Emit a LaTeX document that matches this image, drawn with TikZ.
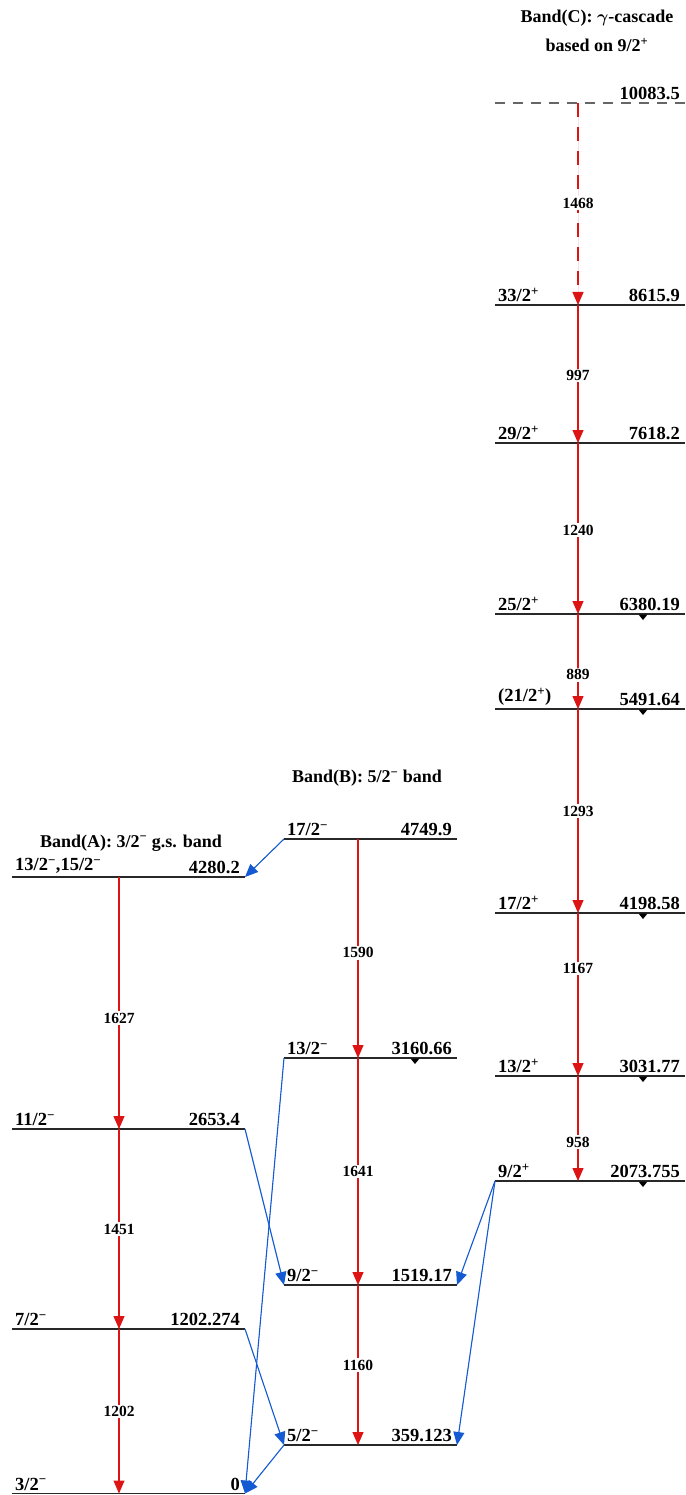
\documentclass[tikz,border=0pt]{standalone}
\usepackage{amsmath}
\usepackage{fontspec}
\setmainfont{Liberation Serif}
\usetikzlibrary{arrows.meta}
\definecolor{gred}{RGB}{220,20,20}
\definecolor{gblue}{RGB}{20,90,210}
\definecolor{lvlgray}{RGB}{40,40,40}
\tikzset{
  lvlline/.style={draw=lvlgray,line width=1.2pt},
  spinlbl/.style={anchor=south west,inner sep=0pt,font=\fontsize{18.5}{20}\selectfont\bfseries},
  enlbl/.style={anchor=south east,inner sep=0pt,font=\fontsize{18.5}{20}\selectfont\bfseries},
  hdr/.style={inner sep=0pt,font=\fontsize{18}{20}\selectfont\bfseries,align=center},
  gam/.style={draw=gred,line width=1.1pt,-{Triangle[width=11pt,length=13pt]},fill=gred},
  gamlbl/.style={fill=white,inner sep=1.5pt,font=\fontsize{15.5}{17}\selectfont\bfseries,text=black},
  cross/.style={draw=gblue,line width=1.1pt,-{Triangle[width=11pt,length=13pt]},fill=gblue},
  tick/.style={fill=black,draw=none}
}
\newcommand{\lvl}[7]{%
  \coordinate (#1-l) at (#2,#4);
  \coordinate (#1-r) at (#3,#4);
  \coordinate (#1-g) at (#5,#4);
  \draw[lvlline] (#1-l) -- (#1-r);
  \node[spinlbl] (#1-s) at ([xshift=3pt,yshift=3pt]#1-l) {#6};
  \node[enlbl] (#1-e) at ([xshift=-5pt,yshift=3pt]#1-r) {#7};
}
\newcommand{\mk}[1]{\fill[tick] ([xshift=-4.5pt]#1) -- ([xshift=4.5pt]#1) -- ([yshift=-5.5pt]#1) -- cycle;}
\begin{document}
\begin{tikzpicture}[x=1pt,y=-1pt]
\useasboundingbox (0,0) rectangle (685,1495);
% Band A
\lvl{a4}{12}{245}{877}{119}{13/2\textsuperscript{−},15/2\textsuperscript{−}}{4280.2}
\lvl{a3}{12}{245}{1129}{119}{11/2\textsuperscript{−}}{2653.4}
\lvl{a2}{12}{245}{1329}{119}{7/2\textsuperscript{−}}{1202.274}
\lvl{a1}{12}{245}{1493.5}{119}{3/2\textsuperscript{−}}{0}
% Band B
\lvl{b4}{284}{457}{839}{358}{17/2\textsuperscript{−}}{4749.9}
\lvl{b3}{284}{457}{1058}{358}{13/2\textsuperscript{−}}{3160.66}
\lvl{b2}{284}{457}{1285}{358}{9/2\textsuperscript{−}}{1519.17}
\lvl{b1}{284}{457}{1445}{358}{5/2\textsuperscript{−}}{359.123}
% Band C
\coordinate (c8-l) at (495,103);
\coordinate (c8-r) at (685,103);
\coordinate (c8-g) at (578,103);
\draw[draw=gray!80!black,line width=1.2pt,dash pattern=on 10pt off 8pt] (c8-l) -- (c8-r);
\node[enlbl] (c8-e) at ([xshift=-5pt,yshift=3pt]c8-r) {10083.5};
\lvl{c7}{495}{685}{305}{578}{33/2\textsuperscript{+}}{8615.9}
\lvl{c6}{495}{685}{443}{578}{29/2\textsuperscript{+}}{7618.2}
\lvl{c5}{495}{685}{614}{578}{25/2\textsuperscript{+}}{6380.19}
\lvl{c4}{495}{685}{709}{578}{(21/2\textsuperscript{+})}{5491.64}
\lvl{c3}{495}{685}{913}{578}{17/2\textsuperscript{+}}{4198.58}
\lvl{c2}{495}{685}{1076}{578}{13/2\textsuperscript{+}}{3031.77}
\lvl{c1}{495}{685}{1181}{578}{9/2\textsuperscript{+}}{2073.755}
% tick marks
\coordinate (t1) at (643,614.5);
\coordinate (t2) at (643,709.5);
\coordinate (t3) at (643,913.5);
\coordinate (t4) at (643,1076.5);
\coordinate (t5) at (643,1181.5);
\coordinate (t6) at (415,1058.5);
\mk{t1}\mk{t2}\mk{t3}\mk{t4}\mk{t5}\mk{t6}
% headers
\node[hdr] (hA) at (131,843) {Band(A): 3/2\textsuperscript{−}\ g.s. band};
\node[hdr] (hB) at (367,778) {Band(B): 5/2\textsuperscript{−}\ band};
\node[hdr] (hC1) at (597,18) {Band(C): $\boldsymbol{\gamma}$-cascade};
\node[hdr] (hC2) at (597,45) {based on 9/2\textsuperscript{+}};
% gamma transitions band C
\draw[gam,dash pattern=on 14pt off 10pt] (c8-g) -- node[gamlbl,pos=0.495] (g1468) {1468} (c7-g);
\draw[gam] (c7-g) -- node[gamlbl,pos=0.51] (g997) {997} (c6-g);
\draw[gam] (c6-g) -- node[gamlbl,pos=0.51] (g1240) {1240} (c5-g);
\draw[gam] (c5-g) -- node[gamlbl,pos=0.64] (g889) {889} (c4-g);
\draw[gam] (c4-g) -- node[gamlbl,pos=0.5] (g1293) {1293} (c3-g);
\draw[gam] (c3-g) -- node[gamlbl,pos=0.34] (g1167) {1167} (c2-g);
\draw[gam] (c2-g) -- node[gamlbl,pos=0.63] (g958) {958} (c1-g);
% band B
\draw[gam] (b4-g) -- node[gamlbl,pos=0.52] (g1590) {1590} (b3-g);
\draw[gam] (b3-g) -- node[gamlbl,pos=0.5] (g1641) {1641} (b2-g);
\draw[gam] (b2-g) -- node[gamlbl,pos=0.5] (g1160) {1160} (b1-g);
% band A
\draw[gam] (a4-g) -- node[gamlbl,pos=0.56] (g1627) {1627} (a3-g);
\draw[gam] (a3-g) -- node[gamlbl,pos=0.5] (g1451) {1451} (a2-g);
\draw[gam] (a2-g) -- node[gamlbl,pos=0.5] (g1202) {1202} (a1-g);
% interband
\draw[cross] (b4-l) -- (a4-r);
\draw[cross] (b3-l) -- (a1-r);
\draw[cross] (a3-r) -- (b2-l);
\draw[cross] (a2-r) -- (b1-l);
\draw[cross] (b1-l) -- (a1-r);
\draw[cross] (c1-l) -- (b2-r);
\draw[cross] (c1-l) -- (b1-r);
\end{tikzpicture}
\end{document}
